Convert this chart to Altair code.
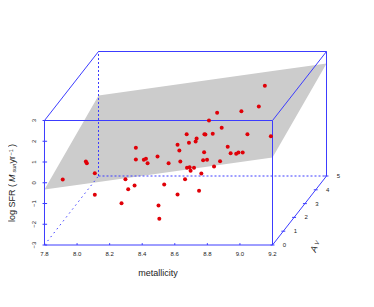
import altair as alt
import pandas as pd

met = [7.912,8.054,8.060,8.109,8.109,8.297,8.353,8.314,8.273,8.500,8.505,8.535,8.617,8.663,
       8.361,8.361,8.410,8.423,8.433,8.494,8.562,8.617,8.628,8.634,8.673,8.687,8.728,8.734,
       8.675,8.691,8.718,8.697,8.763,8.749,9.153,9.116,9.009,8.860,8.810,8.888,8.782,8.788,
       8.833,9.046,9.190,8.925,8.780,8.943,8.977,8.991,9.017,8.774,8.798,8.878,8.841]
sfr = [0.157,1.024,0.942,0.460,-0.581,0.171,-0.133,-0.311,-0.986,-1.096,-1.737,-0.084,-0.566,0.171,
       1.684,1.120,1.106,1.154,0.942,1.265,0.942,1.829,1.554,1.024,2.340,1.925,1.988,2.133,
       0.720,0.749,0.720,0.576,0.446,-0.388,4.672,3.675,3.448,3.371,3.000,2.648,2.340,2.325,
       2.359,2.340,2.243,1.733,1.472,1.424,1.395,1.458,1.458,1.087,1.106,1.039,0.783]

# fitted plane
plane_x = [7.8, 8.132, 9.2, 9.532]
plane_top = [-0.325, 4.205, 5.381, 5.747]
plane_bot = [-0.325, 0.041, 1.217, 5.747]

x_ticks = [7.8, 8.0, 8.2, 8.4, 8.6, 8.8, 9.0, 9.2]
y_ticks = [-3, -2, -1, 0, 1, 2, 3]
av_ticks = [0, 1, 2, 3, 4, 5]

XMIN, XMAX, YMIN, YMAX = 7.8, 9.2, -3, 3
KX, KY = 0.06632, 0.66506   # oblique projection per unit of Av
BLUE = "#3c3cff"
FONT = "Liberation Sans"

def px(m, a): return m + KX * a
def py(s, a): return s + KY * a
def seg(m1, a1, s1, m2, a2, s2):
    return dict(x=px(m1, a1), y=py(s1, a1), x2=px(m2, a2), y2=py(s2, a2))

solid = pd.DataFrame([
    seg(XMIN,0,YMIN,XMAX,0,YMIN), seg(XMIN,0,YMAX,XMAX,0,YMAX),
    seg(XMIN,0,YMIN,XMIN,0,YMAX), seg(XMAX,0,YMIN,XMAX,0,YMAX),
    seg(XMIN,5,YMAX,XMAX,5,YMAX), seg(XMAX,5,YMIN,XMAX,5,YMAX),
    seg(XMIN,0,YMAX,XMIN,5,YMAX), seg(XMAX,0,YMAX,XMAX,5,YMAX),
    seg(XMAX,0,YMIN,XMAX,5,YMIN),
])
dashed = pd.DataFrame([seg(XMIN,5,YMIN,XMIN,5,YMAX), seg(XMIN,5,YMIN,XMAX,5,YMIN)])
dotted = pd.DataFrame([seg(XMIN,0,YMIN,XMIN,5,YMIN)])
ticks = pd.DataFrame(
    [dict(x=v, y=YMIN, x2=v, y2=YMIN+0.09) for v in x_ticks] +
    [dict(x=XMIN-0.012, y=v, x2=XMIN+0.016, y2=v) for v in y_ticks] +
    [dict(x=px(XMAX,a)-0.012, y=py(YMIN,a), x2=px(XMAX,a)+0.012, y2=py(YMIN,a)) for a in av_ticks]
)

W, H = 358, 291
xs = alt.Scale(domain=[7.5759, 9.7741], nice=False, zero=False)
ys = alt.Scale(domain=[-5.6024, 8.4217], nice=False, zero=False)
X = lambda f="x": alt.X(f, type="quantitative", scale=xs, axis=None)
Y = lambda f="y": alt.Y(f, type="quantitative", scale=ys, axis=None)

def rules(df, **kw):
    return alt.Chart(df).mark_rule(color=BLUE, **kw).encode(X(), Y(), x2="x2:Q", y2="y2:Q")

plane = alt.Chart(pd.DataFrame({"x": plane_x, "t": plane_top, "b": plane_bot})).mark_area(
    color="#cccccc", opacity=1).encode(X(), Y("t"), y2="b:Q")
points = alt.Chart(pd.DataFrame({"x": met, "y": sfr})).mark_circle(
    color="#e00008", size=16, opacity=1).encode(X(), Y())

xl = alt.Chart(pd.DataFrame({"x": x_ticks, "y": [YMIN]*8, "t": [f"{v:.1f}" for v in x_ticks]})).mark_text(
    font=FONT, fontSize=6, dy=9, color="#222222").encode(X(), Y(), text="t:N")
yl = alt.Chart(pd.DataFrame({"x": [XMIN]*7, "y": y_ticks, "t": [str(v).replace("-", "\u2212") for v in y_ticks]})).mark_text(
    font=FONT, fontSize=6, dy=-10.5, angle=270, color="#222222").encode(X(), Y(), text="t:N")
al = alt.Chart(pd.DataFrame({"x": [px(XMAX,a) for a in av_ticks], "y": [py(YMIN,a) for a in av_ticks],
                             "t": [str(a) for a in av_ticks]})).mark_text(
    font=FONT, fontSize=6, dx=12, color="#222222").encode(X(), Y(), text="t:N")

def label(t, x, y, size=9, angle=0, style="normal", align="center", baseline="middle"):
    return alt.Chart(pd.DataFrame({"t": [t]})).mark_text(
        font=FONT, fontSize=size, angle=angle, fontStyle=style, align=align, baseline=baseline, color="#222222"
    ).encode(x=alt.value(x), y=alt.value(y), text="t:N")

TB = 6.5  # baseline of the rotated y title, inside the plot frame
titles = [
    label("metallicity", 150, 265),
    label("log SFR (", TB, 214, angle=270, align="left", baseline="alphabetic"),
    label("M", TB, 174, angle=270, style="italic", align="left", baseline="alphabetic"),
    label("sun", TB+1.5, 164.5, size=5.5, angle=270, style="italic", align="left", baseline="alphabetic"),
    label("yr", TB, 155.5, angle=270, align="left", baseline="alphabetic"),
    label("\u22121", TB-1.5, 147.5, size=5.5, angle=270, align="left", baseline="alphabetic"),
    label(")", TB, 139, angle=270, align="left", baseline="alphabetic"),
    label("A", 306, 241, angle=290, style="italic"),
    label("V", 309, 235, size=6, angle=290, style="italic"),
]

chart = alt.layer(
    plane, rules(dotted, strokeWidth=1, strokeDash=[1.5, 3.5]), rules(dashed, strokeWidth=1, strokeDash=[2, 2]),
    rules(solid, strokeWidth=1), rules(ticks, strokeWidth=1), points, xl, yl, al, *titles
).properties(width=W, height=H, padding=0, autosize=alt.AutoSizeParams(type="none")).configure_view(stroke=None)

chart.save("out.html", embed_options={"renderer": "svg", "actions": False})
